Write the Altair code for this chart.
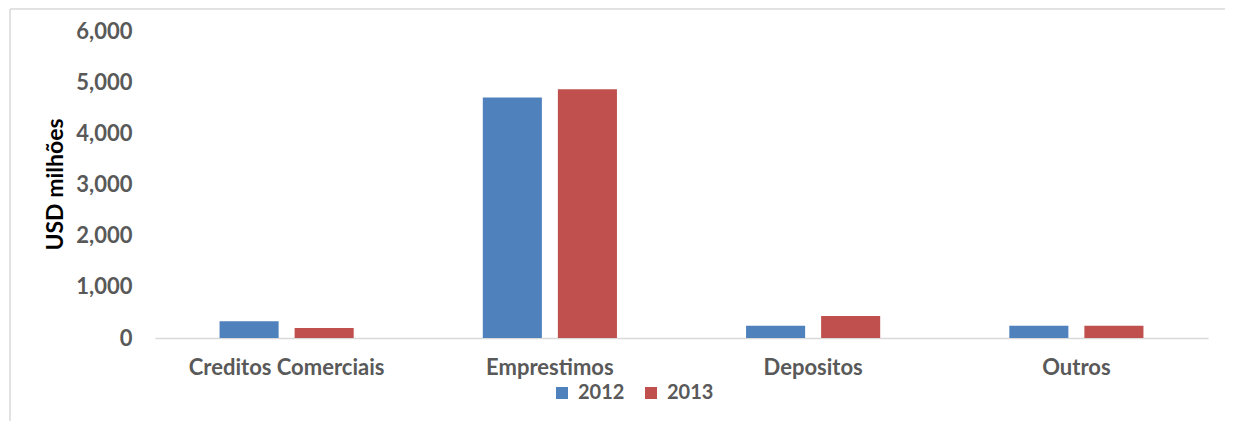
import altair as alt
import pandas as pd

categories = ["Creditos Comerciais", "Emprestimos", "Depositos", "Outros"]
years = ["2012", "2013"]
v2012 = [325, 4700, 240, 240]
v2013 = [195, 4860, 430, 240]
colors = ["#4f81bd", "#c0504d"]

rows = []
for c, a, b in zip(categories, v2012, v2013):
    rows.append({"cat": c, "year": "2012", "value": a})
    rows.append({"cat": c, "year": "2013", "value": b})
df = pd.DataFrame(rows)

FONT = "Lato"
GRAY = "#595959"
FS = 22

bars = alt.Chart(df).mark_bar().encode(
    x=alt.X("cat:N", sort=categories, title=None,
            scale=alt.Scale(paddingInner=0, paddingOuter=0),
            axis=alt.Axis(labelAngle=0, ticks=False, domain=True, domainColor="#d9d9d9",
                          domainWidth=1.5, labelPadding=19, labelFontSize=FS,
                          labelLimit=1000,
                          labelFont=FONT, labelFontWeight="bold", labelColor=GRAY)),
    xOffset=alt.XOffset("year:N", scale=alt.Scale(paddingInner=0.213, paddingOuter=0.86)),
    y=alt.Y("value:Q", title="USD milhões",
            scale=alt.Scale(domain=[0, 6000], nice=False),
            axis=alt.Axis(values=[0, 1000, 2000, 3000, 4000, 5000, 6000], format=",.0f",
                          ticks=False, domain=False, grid=False, labelPadding=23,
                          labelFontSize=FS, labelFont=FONT, labelFontWeight="bold",
                          labelColor=GRAY, titleFont=FONT, titleFontSize=23,
                          titleFontWeight="bold", titleColor="#000000", titleAngle=-90,
                          titleX=-100, titleY=153, titleAlign="center",
                          titleBaseline="middle")),
    color=alt.Color("year:N", scale=alt.Scale(domain=years, range=colors),
                    legend=alt.Legend(title=None, orient="none", legendX=397, legendY=352,
                                      direction="horizontal", symbolType="square",
                                      symbolSize=144, symbolStrokeWidth=0,
                                      labelFont=FONT, labelFontSize=20,
                                      labelFontWeight="bold", labelColor=GRAY,
                                      labelOffset=6, columnPadding=16)),
)

frame_data = alt.Data(values=[{"a": 1}])
left_line = alt.Chart(frame_data).mark_rule(color="#d9d9d9", strokeWidth=1.5).encode(
    x=alt.value(-145), y=alt.value(-22), y2=alt.value(420))
top_line = alt.Chart(frame_data).mark_rule(color="#d9d9d9", strokeWidth=1.5).encode(
    x=alt.value(-145), x2=alt.value(1070), y=alt.value(-22))

chart = alt.layer(left_line, top_line, bars).properties(
    width=1053, height=307,
    autosize=alt.AutoSizeParams(type="none"),
    padding={"left": 147, "top": 23, "right": 17, "bottom": 83},
).configure(
    background="white",
    view=alt.ViewConfig(stroke="transparent", strokeWidth=0),
)

chart.save("out.html", embed_options={"renderer": "svg", "actions": False})
